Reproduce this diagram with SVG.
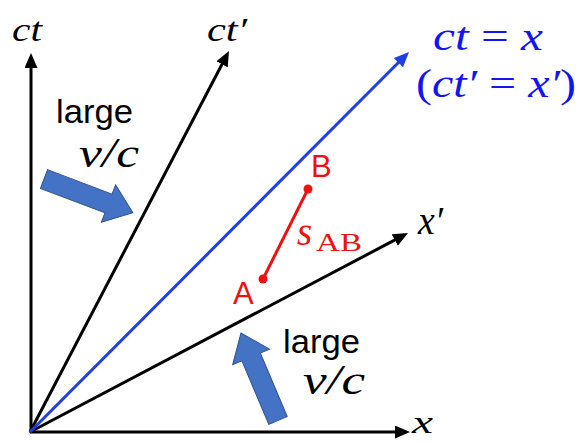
<svg xmlns="http://www.w3.org/2000/svg" width="582" height="443" viewBox="0 0 582 443">
  <style>
    .ax { stroke: #000; stroke-width: 3; fill: none; }
    .lc { stroke: #1f3fe0; stroke-width: 3; fill: none; }
    .math { font-family: "Liberation Serif", "DejaVu Serif", serif; font-style: italic; }
    .rm { font-family: "Liberation Serif", "DejaVu Serif", serif; }
    .sans { font-family: "Liberation Sans", Arial, sans-serif; }
    .big { fill: #4472c4; stroke: #2f528f; stroke-width: 1; }
    .red { fill: #ee1111; }
    .blue { fill: #1414f0; }
  </style>
  <defs>
    <marker id="ah" markerUnits="userSpaceOnUse" markerWidth="15" markerHeight="13" refX="11" refY="6.5" orient="auto">
      <path d="M0,0 L15,6.5 L0,13 Z" fill="#000"/>
    </marker>
    <marker id="ahb" markerUnits="userSpaceOnUse" markerWidth="15" markerHeight="13" refX="11" refY="6.5" orient="auto">
      <path d="M0,0 L15,6.5 L0,13 Z" fill="#1f3fe0"/>
    </marker>
    <path id="fat" d="M0,-10 L69,-10 L69,-20 L95,0 L69,20 L69,10 L0,10 Z"/>
  </defs>

  <g id="connectors">
    <line class="ax" x1="31" y1="433" x2="31" y2="57" marker-end="url(#ah)"/>
    <line class="ax" x1="30" y1="432" x2="406" y2="432" marker-end="url(#ah)"/>
    <line class="ax" x1="30" y1="432" x2="227.1" y2="54.5" marker-end="url(#ah)"/>
    <line class="ax" x1="30" y1="432" x2="404.5" y2="234.9" marker-end="url(#ah)"/>
    <line class="lc" x1="30" y1="432" x2="406.2" y2="54.8" marker-end="url(#ahb)"/>
    <line x1="263" y1="279" x2="308" y2="189" stroke="#ee1111" stroke-width="3"/>
  </g>

  <g id="label-ct">
    <text class="math" x="12" y="41" font-size="34" textLength="30" lengthAdjust="spacingAndGlyphs">ct</text>
  </g>
  <g id="label-ctp">
    <text class="math" x="207" y="41" font-size="34" textLength="40" lengthAdjust="spacingAndGlyphs">ct′</text>
  </g>
  <g id="label-x">
    <text class="math" x="412" y="433" font-size="32" textLength="21" lengthAdjust="spacingAndGlyphs">x</text>
  </g>
  <g id="label-xp">
    <text class="math" x="418" y="234" font-size="40" textLength="25" lengthAdjust="spacingAndGlyphs">x′</text>
  </g>
  <g id="label-light">
    <text class="math blue" x="433" y="50" font-size="39" textLength="110" lengthAdjust="spacingAndGlyphs">ct <tspan font-style="normal">=</tspan> x</text>
    <text class="math blue" x="416" y="97" font-size="39" textLength="160" lengthAdjust="spacingAndGlyphs"><tspan font-style="normal">(</tspan>ct′ <tspan font-style="normal">=</tspan> x′<tspan font-style="normal">)</tspan></text>
  </g>

  <g id="arrow-upper">
    <use href="#fat" class="big" transform="translate(44,179) rotate(20.8)"/>
    <text class="sans" x="56" y="123" font-size="33" textLength="77" lengthAdjust="spacingAndGlyphs">large</text>
    <text class="math" x="79" y="167" font-size="42" textLength="60" lengthAdjust="spacingAndGlyphs">v/c</text>
  </g>
  <g id="arrow-lower">
    <use href="#fat" class="big" transform="translate(278,420.5) rotate(-112.95)"/>
    <text class="sans" x="283" y="353" font-size="33" textLength="77" lengthAdjust="spacingAndGlyphs">large</text>
    <text class="math" x="303" y="394" font-size="42" textLength="62" lengthAdjust="spacingAndGlyphs">v/c</text>
  </g>

  <g id="event-A">
    <circle cx="263" cy="279" r="4.5" class="red"/>
    <text class="sans red" x="233" y="304" font-size="31">A</text>
  </g>
  <g id="event-B">
    <circle cx="308" cy="189" r="4.5" class="red"/>
    <text class="sans red" x="311" y="177" font-size="31">B</text>
  </g>
  <g id="label-sAB">
    <text class="math red" x="297" y="245" font-size="39">s</text>
    <text class="rm red" x="316" y="251" font-size="26" textLength="46" lengthAdjust="spacingAndGlyphs">AB</text>
  </g>
</svg>
